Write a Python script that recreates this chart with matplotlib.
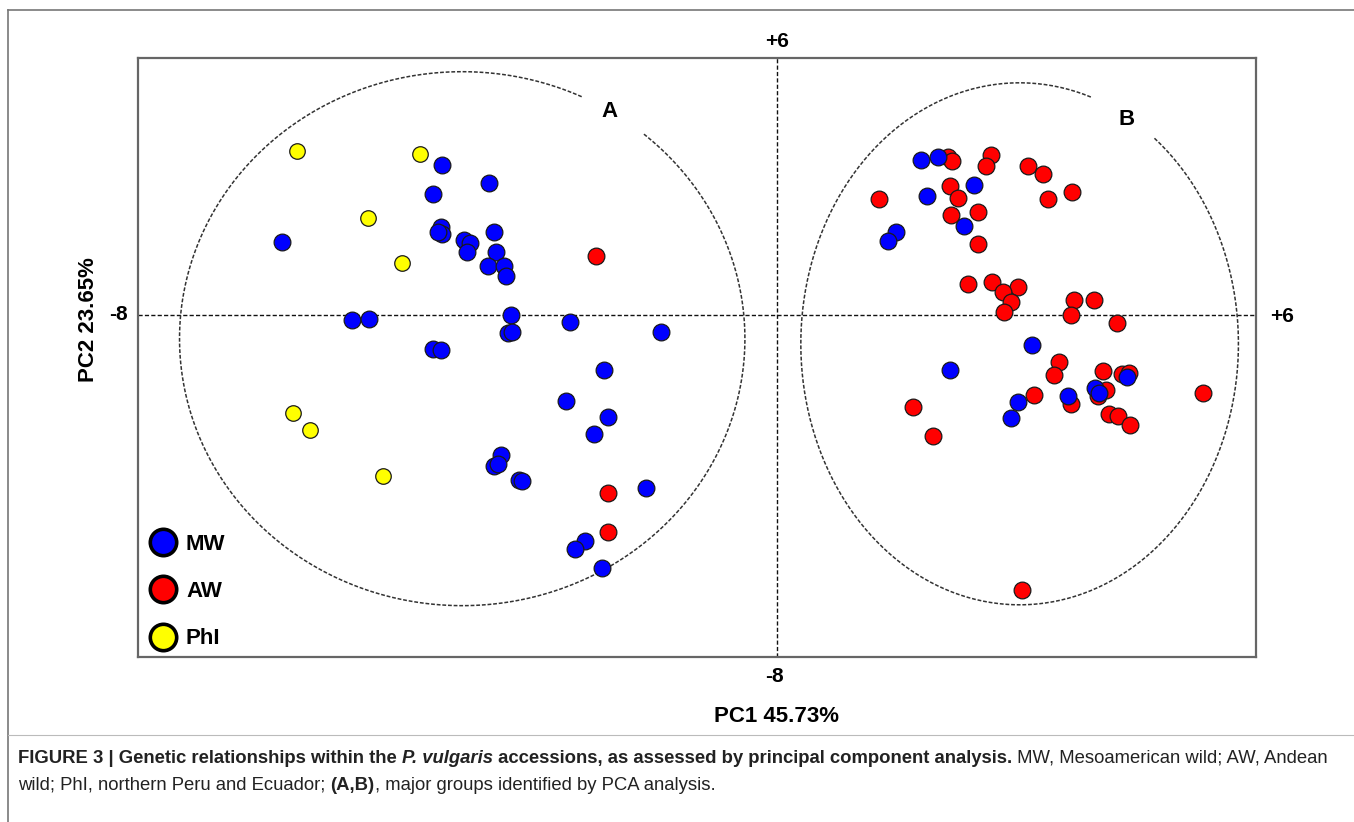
import numpy as np
import matplotlib
matplotlib.use("Agg")
import matplotlib.pyplot as plt
from matplotlib.lines import Line2D

plt.rcParams["font.family"] = ["Liberation Sans", "DejaVu Sans"]

# PCA scores (PC1, PC2)
mw_x = [-4.19, -4.31, -3.60, -6.20, -4.21, -4.19, -4.24, -3.92, -3.84, -3.88,
        -3.54, -3.52, -3.62, -3.42, -3.39, -5.32, -5.11, -3.33, -2.59, -3.37,
        -3.32, -1.45, -4.31, -4.21, -2.17, -2.64, -2.12, -2.29, -3.45, -3.54,
        -3.49, -3.23, -3.19, -1.64, -2.40, -2.53, -2.19,
        1.80, 2.02, 1.88, 2.47, 2.34, 1.49, 1.39, 3.20, 2.17, 3.02, 2.93,
        3.65, 3.98, 4.03, 4.39]
mw_y = [3.50, 2.83, 3.08, 1.71, 2.06, 1.89, 1.94, 1.75, 1.68, 1.47,
        1.94, 1.47, 1.14, 1.14, 0.91, -0.12, -0.09, 0.00, -0.16, -0.42,
        -0.40, -0.40, -0.79, -0.82, -1.29, -2.01, -2.38, -2.78, -3.27, -3.53,
        -3.50, -3.86, -3.88, -4.04, -5.28, -5.47, -5.91,
        3.62, 3.69, 2.78, 3.04, 2.08, 1.94, 1.73, -0.70, -1.29, -2.03, -2.41,
        -1.89, -1.71, -1.82, -1.45]

aw_x = [-2.27, -2.12, -2.12,
        2.14, 2.19, 2.68, 2.62, 3.14, 3.33, 3.40, 3.70, 1.28, 2.17, 2.27,
        2.18, 2.52, 2.52, 2.39, 2.70, 3.02, 2.83, 2.93, 2.84, 3.72, 3.97,
        3.68, 4.26, 3.53, 3.47, 4.09, 4.32, 4.41, 5.34, 1.71, 3.22, 3.68,
        4.12, 4.02, 4.16, 4.27, 4.42, 1.96, 3.07]
aw_y = [1.38, -4.16, -5.09,
        3.69, 3.60, 3.74, 3.48, 3.48, 3.29, 2.71, 2.87, 2.71, 3.01, 2.73,
        2.34, 2.41, 1.66, 0.72, 0.77, 0.65, 0.54, 0.30, 0.07, 0.35, 0.35,
        0.00, -0.19, -1.10, -1.40, -1.31, -1.38, -1.36, -1.82, -2.15, -1.87, -2.08,
        -1.75, -1.89, -2.31, -2.36, -2.57, -2.83, -6.43]

phi_x = [-6.01, -4.47, -5.12, -4.69, -6.06, -5.84, -4.93]
phi_y = [3.83, 3.76, 2.27, 1.21, -2.29, -2.69, -3.76]

groups = ["MW", "AW", "PhI"]
colors = {"MW": "#0000ff", "AW": "#ff0000", "PhI": "#ffff00"}

W, H = 1354, 822
fig = plt.figure(figsize=(W / 100, H / 100), dpi=100)

# outer frame of the figure panel
def hline(y, x0, x1, **kw):
    fig.add_artist(Line2D([x0 / W, x1 / W], [1 - y / H, 1 - y / H], **kw))

def vline(x, y0, y1, **kw):
    fig.add_artist(Line2D([x / W, x / W], [1 - y0 / H, 1 - y1 / H], **kw))

frame_kw = dict(color="#777777", lw=1.2)
hline(10, 8, W, **frame_kw)
vline(8, 10, 822, **frame_kw)
hline(735, 8, W, color="#bbbbbb", lw=0.8)

ax = fig.add_axes([138 / W, 1 - 657 / H, 1118 / W, 599 / H])
ax.set_xlim(-8, 6)
ax.set_ylim(-8, 6)
ax.set_xticks([])
ax.set_yticks([])
for sp in ax.spines.values():
    sp.set_color("#666666")
    sp.set_linewidth(1.6)

ax.axhline(0, color="#111111", lw=1.0, ls=(0, (3, 1.6)), zorder=1)
ax.axvline(0, color="#111111", lw=1.0, ls=(0, (3, 1.6)), zorder=1)

# group ellipses (open near their labels)
def group_ellipse(cx, cy, rx, ry, gap0, gap1):
    t = np.radians(np.linspace(gap1, gap0 + 360, 500))
    ax.plot(cx + rx * np.cos(t), cy + ry * np.sin(t), color="#333333",
            lw=1.1, ls=(0, (2.5, 1.2)), zorder=1)

group_ellipse(-3.94, -0.56, 3.54, 6.24, 50, 65)
group_ellipse(3.04, -0.68, 2.74, 6.10, 52, 71)
ax.text(-2.09, 4.74, "A", fontsize=16, fontweight="bold", ha="center", va="center")
ax.text(4.38, 4.56, "B", fontsize=16, fontweight="bold", ha="center", va="center")

ax.scatter(aw_x, aw_y, s=145, c=colors["AW"], edgecolors="#1a1a1a", linewidths=0.9, zorder=3)
ax.scatter(mw_x, mw_y, s=145, c=colors["MW"], edgecolors="#1a1a1a", linewidths=0.9, zorder=3)
ax.scatter(phi_x, phi_y, s=125, c=colors["PhI"], edgecolors="#1a1a1a", linewidths=0.9, zorder=3)

# axis end labels
lab = dict(fontsize=15, fontweight="bold", textcoords="offset pixels",
           xycoords="data", ha="center", va="center", annotation_clip=False)
ax.annotate("+6", (0, 6), xytext=(0, 16), **lab)
ax.annotate("-8", (0, -8), xytext=(-2, -19), **lab)
ax.annotate("-8", (-8, 0), xytext=(-20, 0), **lab)
ax.annotate("+6", (6, 0), xytext=(26, -2), **lab)
ax.annotate("PC1 45.73%", (0, -8), xytext=(0, -59), fontsize=16,
            fontweight="bold", textcoords="offset pixels", ha="center",
            va="center", annotation_clip=False)
ax.annotate("PC2 23.65%", (-8, 0), xytext=(-49, -5), fontsize=16,
            fontweight="bold", rotation=90, textcoords="offset pixels",
            ha="center", va="center", annotation_clip=False)

handles = [Line2D([], [], ls="none", marker="o", markersize=19,
                  markerfacecolor=colors[g], markeredgecolor="black",
                  markeredgewidth=2.6) for g in groups]
ax.legend(handles, groups, loc="upper left", bbox_to_anchor=(0.0107, 0.2053),
          frameon=False, borderpad=0, borderaxespad=0, handlelength=1.2,
          handletextpad=0.42, labelspacing=1.18,
          prop=dict(size=16, weight="bold"))

# caption, drawn piece by piece so bold / italic runs line up
caption = [
    [("FIGURE 3 | Genetic relationships within the ", "bold", "normal"),
     ("P. vulgaris", "bold", "italic"),
     (" accessions, as assessed by principal component analysis.", "bold", "normal"),
     (" MW, Mesoamerican wild; AW, Andean", "normal", "normal")],
    [("wild; PhI, northern Peru and Ecuador; ", "normal", "normal"),
     ("(A,B)", "bold", "normal"),
     (", major groups identified by PCA analysis.", "normal", "normal")],
]
cap_family = ["Liberation Sans Narrow", "Liberation Sans"]
renderer = fig.canvas.get_renderer()

def text_width(s, size, weight, style):
    t = fig.text(0, 0, s, fontsize=size, fontweight=weight, fontstyle=style,
                 family=cap_family)
    w = t.get_window_extent(renderer).width
    t.remove()
    return w

def piece_width(s, size, weight, style):
    return (text_width("|" + s + "|", size, weight, style)
            - text_width("||", size, weight, style))

base = 10
w1 = sum(piece_width(s, base, wt, st) for s, wt, st in caption[0])
cap_size = base * (1333 - 18) / w1

for line, ypix in zip(caption, [758, 785]):
    x = 18
    for s, wt, st in line:
        fig.text(x / W, 1 - ypix / H, s, fontsize=cap_size, fontweight=wt,
                 fontstyle=st, family=cap_family, color="#222222", va="center")
        x += piece_width(s, cap_size, wt, st)

fig.savefig("out.png", dpi=100)
